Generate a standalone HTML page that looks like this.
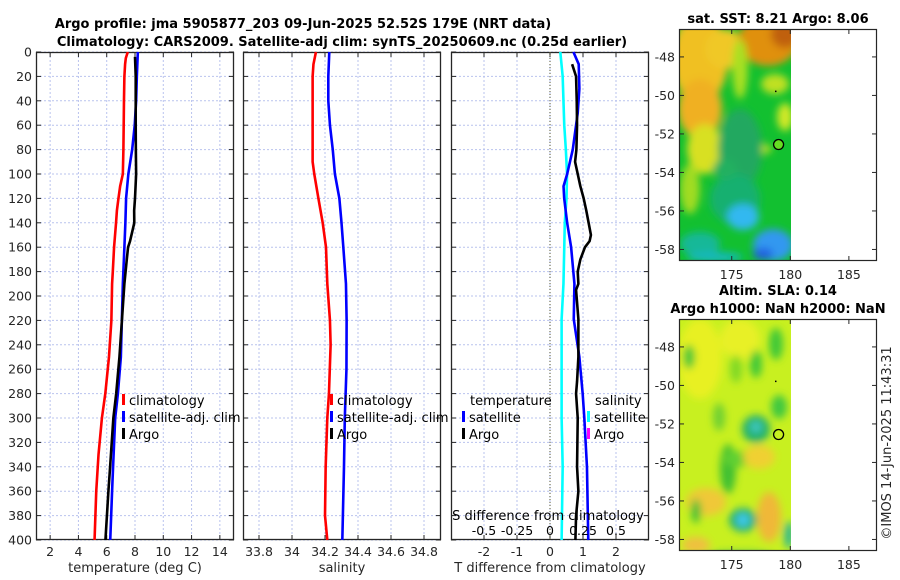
<!DOCTYPE html>
<html><head><meta charset="utf-8"><style>
html,body{margin:0;padding:0;background:#fff;width:900px;height:580px;overflow:hidden}
svg{display:block;font-family:"DejaVu Sans","Liberation Sans",sans-serif}
</style></head><body>
<svg id="fig" width="900" height="580" viewBox="0 0 900 580" xmlns="http://www.w3.org/2000/svg">
<defs>
<filter id="blur1" x="-20%" y="-20%" width="140%" height="140%"><feGaussianBlur stdDeviation="4"/></filter>
<clipPath id="clipMap1"><rect x="679" y="29" width="112" height="231"/></clipPath>
<clipPath id="clipMap2"><rect x="679" y="319" width="112" height="231"/></clipPath>
</defs>
<g id="titles" font-weight="bold" font-size="13" fill="#000" text-anchor="middle">
<text x="303" y="28">Argo profile: jma 5905877_203 09-Jun-2025 52.52S 179E (NRT data)</text>
<text x="342" y="46">Climatology: CARS2009. Satellite-adj clim: synTS_20250609.nc (0.25d earlier)</text>
<text x="778" y="23">sat. SST: 8.21 Argo: 8.06</text>
<text x="778" y="295">Altim. SLA: 0.14</text>
<text x="778" y="313">Argo h1000: NaN h2000: NaN</text>
</g>
<g id="maps"></g>
<g id="panels"></g>
<text font-size="13" fill="#262626" text-anchor="middle" transform="translate(891,443) rotate(-90)">©IMOS 14-Jun-2025 11:43:31</text>
</svg>
<script>
// ---- data ----
const depthTicks = [0,20,40,60,80,100,120,140,160,180,200,220,240,260,280,300,320,340,360,380,400];
const tempTicks = [2,4,6,8,10,12,14];
const salTicks = [33.8,34,34.2,34.4,34.6,34.8];
const dTTicks = [-2,-1,0,1,2];
const dSTicks = [-0.5,-0.25,0,0.25,0.5];
const dSTickLabels = ["-0.5","-0.25","0","0.25","0.5"];
const lonTicks = [175,180,185];
const latTicks = [-48,-50,-52,-54,-56,-58];

const tempClimDepth = [0,5,10,20,40,60,80,100,110,120,130,140,160,180,190,220,250,280,300,330,360,400];
const tempClim = [7.49,7.35,7.3,7.25,7.22,7.2,7.18,7.14,6.95,6.83,6.72,6.66,6.52,6.43,6.38,6.33,6.16,5.9,5.66,5.42,5.26,5.14];
const tempSatDepth = [0,20,40,60,80,100,120,140,160,190,250,280,300,340,360,400];
const tempSat = [8.2,8.13,8.08,7.98,7.8,7.53,7.37,7.32,7.25,7.14,7.0,6.79,6.6,6.45,6.38,6.25];
const tempArgoDepth = [4,20,40,60,80,100,120,130,140,145,155,160,170,190,250,280,300,340,360,400];
const tempArgo = [8.0,8.05,8.05,8.05,8.06,8.08,8.0,7.94,7.95,7.85,7.65,7.51,7.42,7.25,6.9,6.67,6.47,6.24,6.12,5.91];

const salClimDepth = [0,10,20,40,60,90,100,120,140,160,190,220,240,280,300,340,380,400];
const salClim = [34.145,34.13,34.125,34.125,34.125,34.125,34.135,34.16,34.186,34.206,34.214,34.23,34.234,34.224,34.214,34.204,34.2,34.214];
const salSatDepth = [0,20,40,60,80,100,120,140,160,190,220,260,300,340,400];
const salSat = [34.226,34.22,34.22,34.23,34.247,34.26,34.287,34.30,34.311,34.327,34.331,34.33,34.32,34.315,34.305];

const dTSatDepth = [0,10,30,50,60,80,100,110,120,140,160,190,219,250,280,300,340,400];
const dTSat = [0.71,0.87,0.89,0.84,0.79,0.69,0.52,0.41,0.43,0.52,0.64,0.74,0.72,0.89,0.99,1.04,1.12,1.16];
const dTArgoDepth = [10,20,40,60,80,90,100,110,120,130,140,150,155,160,170,180,190,195,219,250,270,280,300,340,360,380,400];
const dTArgo = [0.67,0.79,0.81,0.82,0.8,0.76,0.84,0.92,1.02,1.1,1.17,1.24,1.2,1.06,0.92,0.84,0.86,0.79,0.86,0.86,0.82,0.79,0.84,0.82,0.86,0.79,0.77];
const dSSatDepth = [0,20,60,80,100,120,140,160,190,219,250,300,340,400];
const dSSat = [0.078,0.096,0.108,0.12,0.129,0.125,0.112,0.108,0.102,0.088,0.088,0.088,0.096,0.088];

const argoLon = 179.0, argoLat = -52.55;

// ---- helpers ----
const NS = "http://www.w3.org/2000/svg";
function mk(tag, attrs, parent, text){
  const e = document.createElementNS(NS, tag);
  for (const k in attrs) e.setAttribute(k, attrs[k]);
  if (text !== undefined) e.textContent = text;
  parent.appendChild(e);
  return e;
}
const TOP = 52, BOT = 540;
const yDepth = d => TOP + (d/400)*(BOT-TOP);
function linScale(d0,d1,r0,r1){ return v => r0 + (v-d0)/(d1-d0)*(r1-r0); }

const panels = document.getElementById('panels');

function drawPanel(name, x0, x1, xs, xticks, xlabels, xtitle, showY){
  const g = mk('g', {}, panels);
  
  
  const grid = mk('g', {stroke:'#b9c3ee', 'stroke-width':1, 'stroke-dasharray':'2,2'}, g);
  
  
  xticks.forEach(t => { const x = xs(t); mk('line', {x1:x, x2:x, y1:TOP, y2:BOT}, grid); });
  depthTicks.forEach(d => { const y = yDepth(d); mk('line', {x1:x0, x2:x1, y1:y, y2:y}, grid); });
  const tk = mk('g', {stroke:'#262626', 'stroke-width':1}, g);
  depthTicks.forEach(d => { const y = yDepth(d); mk('line',{x1:x0,x2:x0+5,y1:y,y2:y},tk); mk('line',{x1:x1-5,x2:x1,y1:y,y2:y},tk); });
  xticks.forEach(t => { const x = xs(t); mk('line',{x1:x,x2:x,y1:BOT,y2:BOT-5},tk); mk('line',{x1:x,x2:x,y1:TOP,y2:TOP+5},tk); });
  const xl = mk('g', {'font-size':12.5, fill:'#262626', 'text-anchor':'middle'}, g);
  
  
  xticks.forEach((t,i) => mk('text', {x:xs(t), y:BOT+16}, xl, xlabels[i]));
  const tt = mk('text', {x:(x0+x1)/2, y:BOT+32, 'font-size':13, fill:'#262626', 'text-anchor':'middle'}, g, xtitle);
  
  
  if (showY){
    const yl = mk('g', {'font-size':12.5, fill:'#262626', 'text-anchor':'end'}, g);
    
    
    depthTicks.forEach(d => mk('text', {x:x0-4, y:yDepth(d)+4.5}, yl, String(d)));
  }
  const fr = mk('rect', {x:x0+0.5, y:TOP+0.5, width:x1-x0-1, height:BOT-TOP-1, fill:'none', stroke:'#262626', 'stroke-width':1.3}, g);
  
  
  return g;
}
function drawLine(g, depths, vals, xs, color, name){
  const pts = depths.map((d,i) => xs(vals[i]).toFixed(2)+','+yDepth(d).toFixed(2)).join(' ');
  const p = mk('polyline', {points:pts, fill:'none', stroke:color, 'stroke-width':2.6, 'stroke-linejoin':'round'}, g);
  
  
}
function legendEntry(g, x, y, color, label, name){
  const e = mk('g', {}, g);
  
  
  mk('rect', {x:x, y:y-11, width:3, height:11, fill:color}, e);
  mk('text', {x:x+7, y:y, 'font-size':13, fill:'#000'}, e, label);
}

// Panel 1: temperature
const xT = linScale(1, 15, 36, 234);
const g1 = drawPanel('temperature', 36, 234, xT, tempTicks, tempTicks.map(String), 'temperature (deg C)', true);
drawLine(g1, tempClimDepth, tempClim, xT, '#ff0000', 'temp-climatology-line');
drawLine(g1, tempSatDepth, tempSat, xT, '#0000ff', 'temp-satellite-adj-line');
drawLine(g1, tempArgoDepth, tempArgo, xT, '#000000', 'temp-argo-line');
legendEntry(g1, 122, 405, '#ff0000', 'climatology', 'legend-climatology');
legendEntry(g1, 122, 422, '#0000ff', 'satellite-adj. clim', 'legend-satellite-adj');
legendEntry(g1, 122, 439, '#000000', 'Argo', 'legend-argo');

// Panel 2: salinity
const xS = linScale(33.703, 34.903, 243, 441);
const g2 = drawPanel('salinity', 243, 441, xS, salTicks, ['33.8','34','34.2','34.4','34.6','34.8'], 'salinity', false);
drawLine(g2, salClimDepth, salClim, xS, '#ff0000', 'sal-climatology-line');
drawLine(g2, salSatDepth, salSat, xS, '#0000ff', 'sal-satellite-adj-line');
legendEntry(g2, 330, 405, '#ff0000', 'climatology', 'legend-sal-climatology');
legendEntry(g2, 330, 422, '#0000ff', 'satellite-adj. clim', 'legend-sal-satellite-adj');
legendEntry(g2, 330, 439, '#000000', 'Argo', 'legend-sal-argo');

// Panel 3: differences
const xD = linScale(-3, 3, 451, 649);
const xDS = linScale(-0.75, 0.75, 451, 649);
const g3 = drawPanel('difference', 451, 649, xD, dTTicks, dTTicks.map(String), 'T difference from climatology', false);
const zl = mk('line', {x1:xD(0), x2:xD(0), y1:TOP, y2:BOT, stroke:'#5a5a30', 'stroke-width':1, 'stroke-dasharray':'1,2'}, g3);


drawLine(g3, dSSatDepth, dSSat, xDS, '#00ffff', 'sal-diff-satellite-line');
drawLine(g3, dTSatDepth, dTSat, xD, '#0000ff', 'temp-diff-satellite-line');
drawLine(g3, dTArgoDepth, dTArgo, xD, '#000000', 'temp-diff-argo-line');
const st = mk('text', {x:548, y:520, 'font-size':13, fill:'#000', 'text-anchor':'middle'}, g3, 'S difference from climatology');


const sl = mk('g', {'font-size':12.5, fill:'#000', 'text-anchor':'middle'}, g3);


dSTicks.forEach((t,i) => mk('text', {x:xDS(t), y:535}, sl, dSTickLabels[i]));
const lt = mk('text', {x:470, y:405, 'font-size':13, fill:'#000'}, g3, 'temperature');


legendEntry(g3, 462, 422, '#0000ff', 'satellite', 'legend-temp-satellite');
legendEntry(g3, 462, 439, '#000000', 'Argo', 'legend-temp-argo');
const ls = mk('text', {x:595, y:405, 'font-size':13, fill:'#000'}, g3, 'salinity');


legendEntry(g3, 587, 422, '#00ffff', 'satellite', 'legend-sal-satellite');
legendEntry(g3, 587, 439, '#ff00ff', 'Argo', 'legend-sal-argo-diff');

// ---- maps ----
const maps = document.getElementById('maps');
const lonX = linScale(170.5, 187.4, 679, 877);
function drawMap(name, y0, blobs){
  const latY = linScale(-46.55, -58.6, y0, y0+232);
  const g = mk('g', {}, maps);
  
  
  const img = mk('g', {'clip-path':'url(#'+(y0<100?'clipMap1':'clipMap2')+')'}, g);
  
  
  mk('rect', {x:679, y:y0, width:112, height:231, fill:blobs.base}, img);
  const bg = mk('g', {filter:'url(#blur1)'}, img);
  blobs.shapes.forEach(s => mk('ellipse', {cx:s[0], cy:y0+s[1], rx:s[2], ry:s[3], fill:s[4]}, bg));
  const tk = mk('g', {stroke:'#262626', 'stroke-width':1}, g);
  lonTicks.forEach(l => { const x = lonX(l); mk('line',{x1:x,x2:x,y1:y0+232,y2:y0+227},tk); mk('line',{x1:x,x2:x,y1:y0,y2:y0+5},tk); });
  latTicks.forEach(l => { const y = latY(l); mk('line',{x1:679,x2:684,y1:y,y2:y},tk); mk('line',{x1:872,x2:877,y1:y,y2:y},tk); });
  const xl = mk('g', {'font-size':12.5, fill:'#262626', 'text-anchor':'middle'}, g);
  
  
  lonTicks.forEach(l => mk('text', {x:lonX(l), y:y0+250}, xl, String(l)));
  const yl = mk('g', {'font-size':12.5, fill:'#262626', 'text-anchor':'end'}, g);
  
  
  latTicks.forEach(l => mk('text', {x:675, y:latY(l)+4.5}, yl, String(l)));
  mk('rect', {x:679.5, y:y0+0.5, width:197, height:231, fill:'none', stroke:'#262626', 'stroke-width':1.2}, g);
  const c = mk('circle', {cx:lonX(argoLon), cy:latY(argoLat), r:5, fill:blobs.markerFill, stroke:'#000', 'stroke-width':1.3}, g);
  
  
  mk('rect', {x:775, y:latY(-49.75), width:1.5, height:1.5, fill:'#000'}, g);
}
drawMap('sst-map', 29, {base:'#12c030', markerFill:'#66dd22', shapes:[
  [700,30,28,45,'#f0c020'],[700,80,22,30,'#f0b020'],[725,20,20,20,'#f0c828'],
  [768,12,30,25,'#e09010'],[785,5,14,14,'#c06008'],
  [740,40,8,30,'#a8e020'],[705,120,18,25,'#d8e020'],[690,160,10,25,'#a0dc20'],
  [775,55,14,10,'#c0e020'],[785,88,8,14,'#d0e828'],[760,120,12,5,'#b8e020'],
  [740,120,22,40,'#20a860'],[735,170,25,25,'#18b070'],[725,140,12,10,'#20b060'],
  [743,188,16,13,'#30b8f0'],[773,216,20,16,'#3098f0'],[763,225,10,6,'#2060e0'],
  [700,215,20,12,'#18b898'],[715,228,28,5,'#18b8c0']]});
drawMap('sla-map', 319, {base:'#c8f020', markerFill:'none', shapes:[
  [700,40,22,40,'#e8f020'],[740,20,20,20,'#e8f028'],
  [689,38,6,12,'#40c838'],[756,45,6,14,'#40c838'],[776,25,7,16,'#40c838'],[736,50,6,14,'#80d828'],
  [779,88,8,12,'#40c840'],[756,110,14,14,'#20b068'],[756,108,6,6,'#40c8c0'],
  [719,98,6,14,'#70d030'],[728,150,8,25,'#40c030'],[738,140,14,8,'#60d030'],
  [759,138,16,12,'#f0d030'],[706,183,20,14,'#f0c838'],[769,198,12,25,'#f0b838'],[696,226,14,8,'#f0c040'],
  [743,201,14,12,'#20b070'],[743,201,7,7,'#40c8e8'],[696,192,5,12,'#40c038'],[789,216,5,14,'#30b890'],
  [740,237,35,4,'#30b860']]});
</script>
</body></html>
